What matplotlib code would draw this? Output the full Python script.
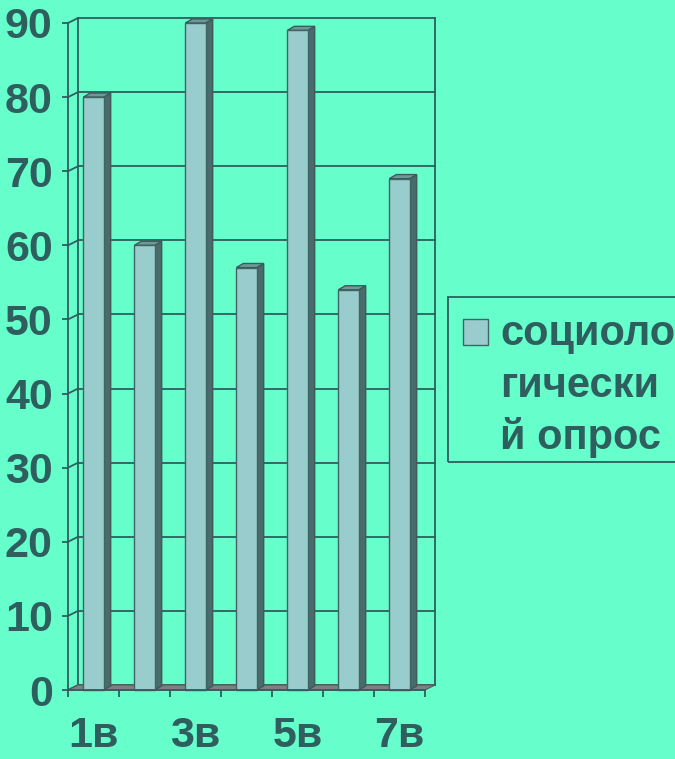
import matplotlib.pyplot as plt
from matplotlib.patches import Polygon, Rectangle

#------------------------------------------------------------------------------
# Data
categories = ['1в', '2в', '3в', '4в', '5в', '6в', '7в']
values = [80, 60, 90, 57, 89, 54, 69]
y_ticks = [0, 10, 20, 30, 40, 50, 60, 70, 80, 90]
legend_lines = ['социоло', 'гически', 'й опрос']

#------------------------------------------------------------------------------
# Look
bg = '#66FFCC'
bar_face = '#99CCCC'
bar_side = '#4A6B6B'
bar_top = '#6E9999'
ink = '#2E5E5E'
floor_c = '#808080'

plt.rcParams['font.family'] = ['Liberation Sans', 'DejaVu Sans']
plt.rcParams['font.weight'] = 'bold'

W, H = 675, 759
fig = plt.figure(figsize=(W / 100, H / 100), dpi=100, facecolor=bg)

def px(x0, y0, x1, y1):
    # pixel box (from top-left) -> figure fraction [l, b, w, h]
    return [x0 / W, 1 - y1 / H, (x1 - x0) / W, (y1 - y0) / H]

ax = fig.add_axes(px(68, 23, 425, 690))
ax.set_facecolor('none')
n = len(categories)
ax.set_xlim(-0.5, n - 0.5)
ax.set_ylim(0, 90)

# depth offsets (data units)
dxw, dyw = 0.196, 0.67   # back wall
dxb, dyb = 0.137, 0.55   # bar depth
bw = 0.40
lw_grid = 1.3

# back wall grid + left wall connectors
x0, x1 = -0.5, n - 0.5
for v in y_ticks:
    ax.plot([x0 + dxw, x1 + dxw], [v + dyw, v + dyw], color=ink, lw=lw_grid,
            clip_on=False, zorder=1)
    ax.plot([x0, x0 + dxw], [v, v + dyw], color=ink, lw=lw_grid,
            clip_on=False, zorder=1)
ax.plot([x0 + dxw, x0 + dxw], [dyw, 90 + dyw], color=ink, lw=lw_grid,
        clip_on=False, zorder=1)
ax.plot([x1 + dxw, x1 + dxw], [dyw, 90 + dyw], color=ink, lw=lw_grid,
        clip_on=False, zorder=1)

# floor
ax.add_patch(Polygon([(x0, 0), (x1, 0), (x1 + dxw, dyw), (x0 + dxw, dyw)],
                     closed=True, facecolor=floor_c, edgecolor='#4A6060',
                     lw=0.8, clip_on=False, zorder=2))

# bars
for i, v in enumerate(values):
    l, r = i - bw / 2, i + bw / 2
    ax.add_patch(Polygon([(r, 0), (r + dxb, dyb), (r + dxb, v + dyb), (r, v)],
                         closed=True, facecolor=bar_side, edgecolor='#3E5A5A',
                         lw=1.0, clip_on=False, zorder=3))
    ax.add_patch(Polygon([(l, v), (r, v), (r + dxb, v + dyb), (l + dxb, v + dyb)],
                         closed=True, facecolor=bar_top, edgecolor='#3E5A5A',
                         lw=1.0, clip_on=False, zorder=3))
    ax.add_patch(Rectangle((l, 0), bw, v, facecolor=bar_face,
                           edgecolor='#3E6464', lw=1.0, clip_on=False, zorder=4))

# axes
for s in ['top', 'right']:
    ax.spines[s].set_visible(False)
for s in ['left', 'bottom']:
    ax.spines[s].set_color(ink)
    ax.spines[s].set_linewidth(lw_grid)
    ax.spines[s].set_zorder(5)

ax.set_yticks(y_ticks)
ax.set_yticklabels([str(t) for t in y_ticks])
ax.tick_params(axis='y', colors=ink, length=4, width=lw_grid, pad=7,
               labelsize=31, labelcolor=ink)

ax.set_xticks([i - 0.5 for i in range(n + 1)])
ax.set_xticklabels([])
ax.tick_params(axis='x', colors=ink, length=5, width=lw_grid)
ax.set_xticks(range(0, n, 2), minor=True)
ax.set_xticklabels(categories[::2], minor=True)
ax.tick_params(axis='x', which='minor', length=0, pad=19,
               labelsize=31, labelcolor=ink)

# legend drawn by hand (box runs off the right edge)
fig.patches.append(Rectangle((448 / W, 1 - 462 / H), 260 / W, 165 / H,
                             transform=fig.transFigure, facecolor='none',
                             edgecolor=ink, lw=1.3))
fig.patches.append(Rectangle((463 / W, 1 - 345 / H), 25 / W, 26 / H,
                             transform=fig.transFigure, facecolor=bar_face,
                             edgecolor='#3E6464', lw=1.0))
for k, line in enumerate(legend_lines):
    fig.text(500 / W, 1 - (334 + 52 * k) / H, line, fontsize=30,
             color=ink, va='center', ha='left', fontweight='bold')

fig.savefig('out.png', dpi=100, facecolor=bg)
